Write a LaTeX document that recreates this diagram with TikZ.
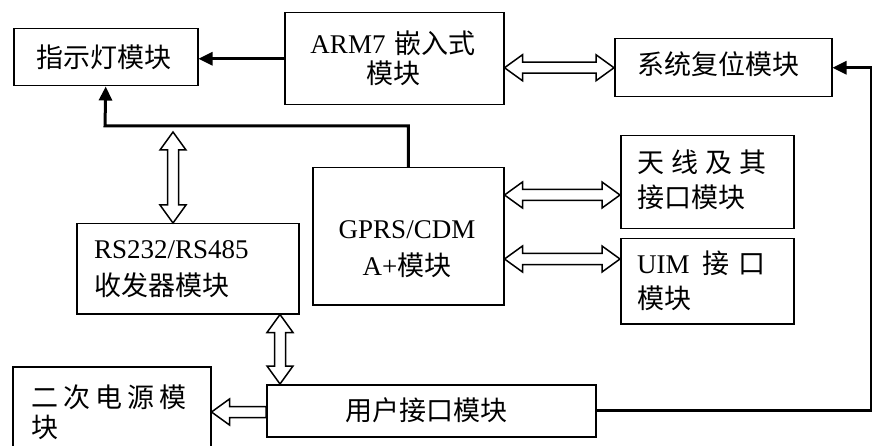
\documentclass[tikz,border=0pt]{standalone}
\usepackage{fontspec}
\setmainfont{Liberation Serif}
\newfontfamily\cjk{Noto Sans CJK SC}
\usetikzlibrary{arrows.meta,calc}
\newcommand\hL{18}
\newcommand\hH{13}
\newcommand\hS{5.5}
\tikzset{
  box/.style={draw, line width=1.5pt, inner sep=0pt, anchor=north west},
  lbl/.style={inner sep=0pt, align=left, anchor=west},
  conn/.style={line width=3pt, -{Triangle[length=14pt,width=13pt]}},
  hollowtwo/.style={draw, fill=white, line width=1.5pt, line join=miter,
    to path={let \p1=(\tikztostart), \p2=(\tikztotarget),
      \n1={veclen(\x2-\x1,\y2-\y1)},
      \n2={(\x2-\x1)/\n1}, \n3={(\y2-\y1)/\n1} in
      -- ({\x1+\hL*\n2-\hH*\n3},{\y1+\hL*\n3+\hH*\n2})
      -- ({\x1+\hL*\n2-\hS*\n3},{\y1+\hL*\n3+\hS*\n2})
      -- ({\x2-\hL*\n2-\hS*\n3},{\y2-\hL*\n3+\hS*\n2})
      -- ({\x2-\hL*\n2-\hH*\n3},{\y2-\hL*\n3+\hH*\n2})
      -- (\x2,\y2)
      -- ({\x2-\hL*\n2+\hH*\n3},{\y2-\hL*\n3-\hH*\n2})
      -- ({\x2-\hL*\n2+\hS*\n3},{\y2-\hL*\n3-\hS*\n2})
      -- ({\x1+\hL*\n2+\hS*\n3},{\y1+\hL*\n3-\hS*\n2})
      -- ({\x1+\hL*\n2+\hH*\n3},{\y1+\hL*\n3-\hH*\n2})
      -- cycle}},
  hollowone/.style={draw, fill=white, line width=1.5pt, line join=miter,
    to path={let \p1=(\tikztostart), \p2=(\tikztotarget),
      \n1={veclen(\x2-\x1,\y2-\y1)},
      \n2={(\x2-\x1)/\n1}, \n3={(\y2-\y1)/\n1} in
      -- ({\x1-\hS*\n3},{\y1+\hS*\n2})
      -- ({\x2-\hL*\n2-\hS*\n3},{\y2-\hL*\n3+\hS*\n2})
      -- ({\x2-\hL*\n2-\hH*\n3},{\y2-\hL*\n3+\hH*\n2})
      -- (\x2,\y2)
      -- ({\x2-\hL*\n2+\hH*\n3},{\y2-\hL*\n3-\hH*\n2})
      -- ({\x2-\hL*\n2+\hS*\n3},{\y2-\hL*\n3-\hS*\n2})
      -- ({\x1+\hS*\n3},{\y1-\hS*\n2})
      -- cycle}}
}
\begin{document}
\begin{tikzpicture}[x=1pt, y=-1pt]
\useasboundingbox (0,0) rectangle (872,446);
\fill[white] (0,0) rectangle (872,446);
\clip (0,0) rectangle (872,446);
% boxes
\node[box, minimum width=184pt, minimum height=57pt] (ind) at (13,28) {};
\node[box, minimum width=219pt, minimum height=92pt] (arm) at (284,12) {};
\node[box, minimum width=217pt, minimum height=58pt] (rst) at (614,38) {};
\node[box, minimum width=173pt, minimum height=93pt] (ant) at (620,135) {};
\node[box, minimum width=173pt, minimum height=85pt] (uim) at (620,238) {};
\node[box, minimum width=191pt, minimum height=137pt] (gprs) at (312,167) {};
\node[box, minimum width=222pt, minimum height=90pt] (rs) at (76,223) {};
\node[box, minimum width=329pt, minimum height=52pt] (usr) at (266,384) {};
\node[box, minimum width=198pt, minimum height=100pt] (pwr) at (12,366) {};
% texts
\node[lbl, anchor=center, font=\cjk\fontsize{27}{32}\selectfont] (indt) at (104,57) {指示灯模块};
\node[lbl, anchor=center, align=center, font=\fontsize{27}{30}\selectfont] (armt) at (393,58) {ARM7\hspace{9pt}{\cjk 嵌入式}\\{\cjk 模块}};
\node[lbl, anchor=center, font=\cjk\fontsize{27}{32}\selectfont] (rstt) at (718,64) {系统复位模块};
\node[lbl, font=\cjk\fontsize{27}{35}\selectfont] (antt) at (637,180) {天\hspace{7pt}线\hspace{7pt}及\hspace{7pt}其\\接口模块};
\node[lbl, font=\fontsize{27}{35}\selectfont] (uimt) at (637,281) {UIM\hspace{13pt}{\cjk 接\hspace{9pt}口}\\{\cjk 模块}};
\node[lbl, anchor=center, align=center, font=\fontsize{27}{37}\selectfont] (gprst) at (407,249) {GPRS/CDM\\A+{\cjk 模块}};
\node[lbl, font=\fontsize{27}{37}\selectfont] (rst2) at (94,269) {RS232/RS485\\{\cjk 收发器模块}};
\node[lbl, anchor=center, font=\cjk\fontsize{27}{32}\selectfont] (usrt) at (426,410) {用户接口模块};
\node[lbl, font=\cjk\fontsize{27}{30}\selectfont] (pwrt) at (31,412) {二\hspace{5pt}次\hspace{5pt}电\hspace{5pt}源\hspace{5pt}模\\块};
% coordinates
\coordinate (bend) at (105,126);
\coordinate (rc) at (871,0);
\coordinate (v1) at (173,132);
\coordinate (v2) at (280,0);
\coordinate (ya) at (0,195);
\coordinate (yu) at (0,259);
\coordinate (yp) at (0,412);
% connectors
\draw[conn] (arm.west) -- (arm.west -| ind.east);
\draw[conn] (gprs.north) |- (bend) -- (ind.south);
\draw[conn] (usr.east) -- (usr.east -| rc) |- (rst.east);
\draw[hollowtwo] (arm.east |- rst.west) to (rst.west);
\draw[hollowtwo] (gprs.east |- ya) to (ant.west |- ya);
\draw[hollowtwo] (gprs.east |- yu) to (uim.west |- yu);
\draw[hollowtwo] (v1) to (v1 |- rs.north);
\draw[hollowtwo] (v2 |- rs.south) to (v2 |- usr.north);
\draw[hollowone] (usr.west |- yp) to (pwr.east |- yp);
\end{tikzpicture}
\end{document}
